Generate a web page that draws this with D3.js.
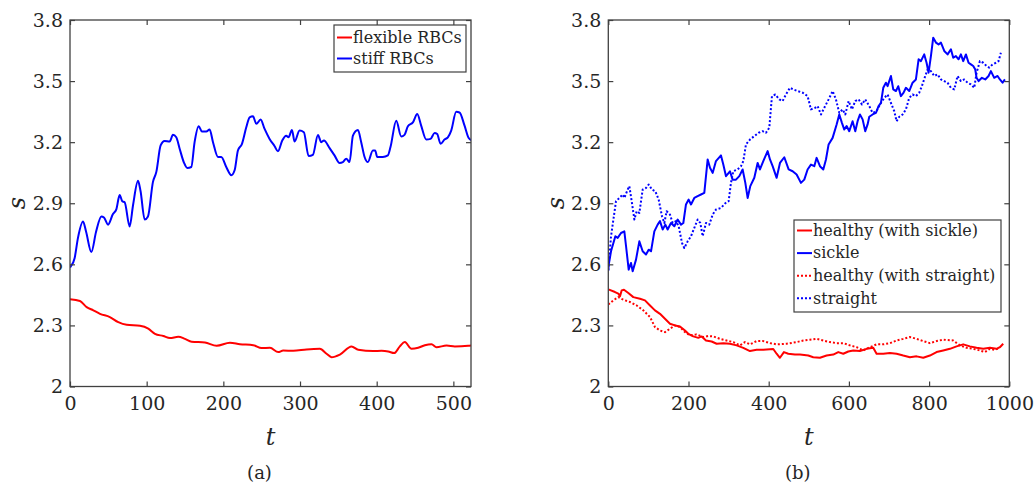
<!DOCTYPE html>
<html><head><meta charset="utf-8">
<script src="https://cdn.jsdelivr.net/npm/d3@7"></script>
<style>
body{margin:0;background:#fff;}
svg{display:block;}
text{font-family:"DejaVu Serif",serif;fill:#262626;}
</style></head>
<body>
<svg id="c" width="1035" height="485"></svg>
<script>
// ---------- DATA ----------
const xTicksA = [0,100,200,300,400,500];
const xTicksB = [0,200,400,600,800,1000];
const yTicks = [2,2.3,2.6,2.9,3.2,3.5,3.8];
const yTickLabels = ["2","2.3","2.6","2.9","3.2","3.5","3.8"];
const legendA = ["flexible RBCs","stiff RBCs"];
const legendB = ["healthy (with sickle)","sickle","healthy (with straight)","straight"];

const stiff = [[0,2.585],[1,2.59],[6,2.63],[10.4,2.73],[17,2.81],[21,2.76],[27.8,2.66],[34,2.76],[40.9,2.835],[44.3,2.83],[49.6,2.795],[56,2.847],[60.4,2.87],[64.8,2.94],[68.2,2.91],[71.3,2.905],[77.8,2.786],[82.2,2.89],[88.7,3.01],[92,2.96],[97.4,2.82],[101.7,2.835],[108.2,3.005],[112.6,3.054],[118.2,3.184],[123.4,3.206],[130,3.203],[134.3,3.236],[138.6,3.224],[143,3.168],[148.6,3.10],[153,3.073],[158.2,3.078],[162.5,3.20],[167.8,3.278],[172.1,3.252],[177.8,3.252],[182.1,3.262],[186.5,3.20],[193,3.127],[197.3,3.127],[203.8,3.078],[210.4,3.038],[214.7,3.062],[219,3.159],[224.3,3.192],[229.9,3.273],[234.3,3.322],[238.6,3.327],[243,3.29],[248.6,3.311],[253.8,3.265],[260.3,3.216],[266.9,3.18],[271.2,3.155],[276.8,3.208],[282,3.232],[285,3.224],[289.5,3.26],[292.9,3.203],[299.4,3.257],[305,3.249],[311.2,3.132],[316.8,3.138],[323.4,3.235],[327.7,3.20],[331.2,3.208],[338.6,3.171],[345,3.135],[351.6,3.098],[355.9,3.102],[360.3,3.119],[364.6,3.102],[369,3.232],[375.5,3.26],[379.8,3.20],[384.2,3.127],[388.5,3.102],[395,3.159],[398,3.159],[400.7,3.127],[408,3.127],[414.6,3.135],[418,3.176],[425.5,3.305],[432,3.228],[436.3,3.236],[440.7,3.278],[447.2,3.297],[452.9,3.338],[458,3.281],[464.6,3.213],[470.2,3.216],[475.5,3.245],[478.9,3.24],[483.3,3.192],[488.5,3.213],[492.8,3.224],[497.2,3.257],[503.7,3.349],[508,3.346],[514.6,3.281],[520,3.22],[523,3.21]];

const flexible = [[0,2.428],[13,2.42],[21.7,2.39],[30.4,2.374],[39.1,2.357],[52,2.341],[63,2.316],[73.9,2.303],[91.3,2.298],[102.1,2.284],[110.8,2.259],[121.7,2.248],[130.4,2.238],[141.2,2.244],[149.9,2.234],[158.6,2.22],[176,2.216],[191.2,2.20],[208.6,2.215],[221.6,2.208],[239,2.203],[249.9,2.189],[260.8,2.19],[271.6,2.169],[278.1,2.177],[291.2,2.175],[308.5,2.182],[325.9,2.185],[334.6,2.161],[341.1,2.144],[352,2.157],[367.2,2.197],[375.9,2.18],[395.5,2.174],[406.3,2.175],[415,2.172],[422.8,2.164],[430.2,2.197],[436.7,2.218],[445.4,2.185],[454.1,2.19],[462.8,2.203],[471.5,2.208],[478,2.193],[491.1,2.201],[501.9,2.197],[519.3,2.20],[523,2.202]];

const sickle = [[0,2.57],[1,2.598],[6.8,2.664],[17.6,2.738],[23.4,2.73],[31.7,2.754],[40,2.762],[44.2,2.69],[50.8,2.574],[56.6,2.607],[60.8,2.566],[69.1,2.623],[77.4,2.713],[85.7,2.664],[94,2.648],[100.7,2.672],[106.5,2.664],[114.8,2.762],[123.1,2.795],[128.9,2.812],[135.6,2.771],[142.2,2.795],[148,2.771],[156.3,2.803],[164.7,2.787],[173,2.82],[181.3,2.795],[187.1,2.803],[193.7,2.894],[200.4,2.918],[206.2,2.894],[214.5,2.926],[222.8,2.935],[231.1,2.943],[239.4,2.951],[247.8,3.115],[253.6,3.074],[260.2,3.049],[268.5,3.107],[281,3.135],[286.8,3.09],[293.5,3.033],[303.4,3.057],[310,3.016],[318.4,3.016],[326.7,3.033],[335,3.066],[341.7,3.0],[347.5,2.926],[354.1,2.984],[364.1,3.025],[372.4,3.098],[378.2,3.066],[386.5,3.107],[397.3,3.156],[403.2,3.115],[409.8,3.082],[419.8,3.025],[428.1,3.098],[438.9,3.126],[449.7,3.066],[459.7,3.057],[469.6,3.041],[480.4,3.0],[488.7,3.016],[497,3.066],[505.4,3.09],[513.7,3.082],[519.5,3.123],[527.8,3.082],[536.1,3.066],[542.8,3.115],[549.4,3.189],[559.4,3.221],[569.4,3.287],[576,3.336],[582.6,3.295],[588.5,3.262],[594.3,3.279],[600.9,3.254],[609.2,3.303],[615.9,3.254],[621.7,3.303],[627.5,3.336],[634.2,3.312],[640.8,3.254],[646.6,3.287],[650.8,3.325],[659.1,3.336],[667.4,3.344],[674,3.377],[679.9,3.393],[685.7,3.467],[692.3,3.492],[696.5,3.475],[704.8,3.525],[710.6,3.459],[717.3,3.451],[723.1,3.475],[729.7,3.426],[736.4,3.443],[742.2,3.467],[750.5,3.451],[758.8,3.492],[767.1,3.508],[773.8,3.607],[779.6,3.598],[783.8,3.615],[787.9,3.631],[793.7,3.59],[798.7,3.541],[804.5,3.623],[810.3,3.713],[817,3.689],[823.6,3.68],[829.5,3.689],[837.8,3.648],[846.1,3.631],[854.4,3.656],[860.2,3.615],[866.9,3.623],[873.5,3.607],[879.3,3.631],[885.1,3.598],[891.8,3.631],[898.4,3.59],[904.2,3.582],[910.1,3.574],[915.1,3.557],[918.4,3.516],[923.4,3.5],[931.7,3.516],[940,3.508],[948.3,3.525],[954.1,3.549],[962.4,3.516],[970.7,3.525],[976.5,3.508],[983.2,3.492],[989,3.508]];

const straight = [[0,2.57],[6.8,2.738],[19.2,2.91],[27.5,2.926],[35.9,2.943],[40,2.926],[48.3,2.967],[52.5,2.984],[59.1,2.90],[65,2.82],[70.8,2.861],[77.4,2.852],[85.7,2.967],[94,2.975],[100.7,2.992],[109,2.967],[117.3,2.959],[125.6,2.918],[133.9,2.836],[139.7,2.803],[145.5,2.861],[153.9,2.844],[160.5,2.803],[168.8,2.812],[175.5,2.787],[183.8,2.705],[189.6,2.68],[197.9,2.713],[206.2,2.738],[214.5,2.779],[222.8,2.82],[229.5,2.803],[235.3,2.738],[243.6,2.803],[251.9,2.795],[260.2,2.844],[268.5,2.869],[281,2.877],[291.8,2.90],[300.1,2.91],[305.9,3.0],[311.7,3.057],[322.5,3.066],[330.9,3.082],[336.7,3.107],[343.3,3.189],[353.3,3.213],[364.1,3.23],[374.9,3.246],[384.9,3.254],[393.2,3.246],[401.5,3.271],[408.1,3.426],[416.4,3.434],[426.4,3.41],[434.7,3.402],[443,3.434],[453,3.467],[461.3,3.459],[472.1,3.451],[484.6,3.443],[497,3.426],[505.4,3.361],[516.2,3.369],[522,3.377],[530.3,3.336],[538.6,3.369],[549.4,3.41],[559.4,3.451],[567.7,3.41],[576,3.344],[584.3,3.361],[591,3.336],[599.3,3.402],[607.6,3.361],[615.9,3.402],[624.2,3.41],[632.5,3.385],[640.8,3.41],[650.8,3.377],[659.1,3.344],[669.1,3.352],[677.4,3.385],[688.2,3.418],[696.5,3.434],[704.8,3.393],[713.1,3.352],[718.9,3.303],[725.6,3.325],[733.9,3.336],[742.2,3.361],[750.5,3.418],[758.8,3.434],[767.1,3.426],[775.4,3.443],[782,3.475],[790.4,3.525],[796.2,3.557],[804.5,3.549],[812.8,3.525],[821.1,3.533],[829.5,3.508],[837.8,3.5],[846.1,3.492],[854.4,3.467],[862.7,3.459],[871,3.525],[879.3,3.5],[887.6,3.508],[896,3.492],[904.2,3.484],[912.6,3.467],[918.4,3.541],[926.7,3.598],[935,3.59],[943.3,3.574],[950,3.566],[958.3,3.582],[966.6,3.59],[973.2,3.598],[979,3.639]];

const healthySickle = [[0,2.477],[16.7,2.464],[25,2.456],[29.2,2.443],[33.3,2.472],[39.1,2.475],[50,2.459],[62.4,2.439],[79,2.431],[91.5,2.423],[104,2.398],[116.4,2.374],[128.9,2.357],[141.3,2.333],[153.8,2.308],[166.3,2.30],[178.7,2.295],[191.2,2.275],[199.5,2.259],[212,2.246],[224.4,2.239],[232.8,2.246],[243.6,2.226],[257.7,2.221],[270.2,2.21],[286.8,2.213],[303.4,2.21],[320,2.202],[336.6,2.19],[353.3,2.174],[369.9,2.18],[386.5,2.18],[411.4,2.184],[419.7,2.161],[428,2.141],[438,2.169],[448.8,2.161],[465.4,2.157],[478,2.157],[498.7,2.152],[511.1,2.144],[527.8,2.141],[544.4,2.152],[561,2.157],[573.5,2.169],[586,2.161],[598.4,2.172],[610.9,2.177],[627.5,2.174],[644.1,2.185],[660.7,2.19],[669,2.161],[685.7,2.161],[702.3,2.164],[718.9,2.161],[735.5,2.152],[752.1,2.144],[768.8,2.148],[785.4,2.141],[802,2.152],[818.6,2.169],[835.2,2.177],[851.9,2.185],[868.5,2.197],[885.1,2.207],[901.7,2.197],[918.3,2.19],[935,2.185],[951.6,2.19],[968.2,2.185],[976.5,2.193],[984.8,2.21]];

const healthyStraight = [[0,2.403],[12.5,2.423],[25,2.439],[37.5,2.426],[54,2.415],[70.7,2.398],[87.3,2.374],[104,2.341],[116.4,2.292],[129,2.275],[141.3,2.267],[153.8,2.284],[166.3,2.30],[178.7,2.292],[191.2,2.267],[203.7,2.251],[220.3,2.256],[236.9,2.243],[249.4,2.248],[261.8,2.246],[278.5,2.234],[295,2.226],[311.7,2.218],[328.3,2.202],[340.8,2.218],[353.3,2.207],[369.9,2.223],[386.5,2.223],[403.1,2.213],[419.7,2.207],[444.6,2.21],[469.6,2.218],[486.2,2.226],[502.8,2.23],[519.5,2.234],[536.1,2.226],[552.7,2.218],[569.3,2.213],[585.9,2.213],[602.5,2.202],[619.2,2.193],[635.8,2.177],[652.4,2.193],[669,2.207],[685.7,2.207],[702.3,2.213],[718.9,2.226],[735.5,2.234],[752.1,2.243],[768.8,2.234],[785.4,2.223],[802,2.213],[818.6,2.223],[835.2,2.23],[860.2,2.226],[876.8,2.202],[893.4,2.19],[910,2.185],[926.7,2.177],[939.1,2.169],[951.6,2.185],[964.1,2.18],[976.5,2.19]];

// ---------- DRAW ----------
const svg = d3.select("#c");
const AX = "#404040";
const RED = "#ff0000", BLUE = "#0000ff";
const FONT = '"DejaVu Serif",serif';

function panel(opt){
  const g = svg.append("g");
  const x = d3.scaleLinear().domain(opt.xDomain).range([opt.left, opt.right]);
  const y = d3.scaleLinear().domain([2,3.8]).range([386.5, 20]);
  const fmt = (d)=>yTickLabels[yTicks.indexOf(d)];

  const clipId = "clip"+opt.id;
  svg.append("clipPath").attr("id",clipId).append("rect")
    .attr("x",opt.left).attr("y",20).attr("width",opt.right-opt.left).attr("height",366.5);
  const lg = g.append("g").attr("clip-path","url(#"+clipId+")");
  opt.series.forEach(s=>{
    const line = d3.line().x(d=>x(d[0])).y(d=>y(d[1])).curve(s.curve||d3.curveLinear);
    lg.append("path").datum(s.data).attr("d",line).attr("fill","none")
      .attr("stroke",s.color).attr("stroke-width",2)
      .attr("stroke-dasharray",s.dash?"2,2":null).attr("stroke-linejoin","round");
  });

  const ax = (sel)=>{sel.attr("font-family",FONT); sel.select(".domain").remove();
    sel.selectAll("line").attr("stroke",AX).attr("stroke-width",1.2);
    sel.selectAll("text").style("font-size","19px").style("font-family",FONT).attr("fill","#333");};
  g.append("g").attr("transform","translate(0,386.5)")
    .call(d3.axisBottom(x).tickValues(opt.xTicks).tickSize(-5).tickPadding(10).tickFormat(d3.format("d"))).call(ax);
  g.append("g").attr("transform","translate(0,20)")
    .call(d3.axisTop(x).tickValues(opt.xTicks).tickSize(-5).tickFormat("")).call(ax);
  g.append("g").attr("transform","translate("+opt.left+",0)")
    .call(d3.axisLeft(y).tickValues(yTicks).tickSize(-5).tickPadding(7).tickFormat(fmt)).call(ax);
  g.append("g").attr("transform","translate("+opt.right+",0)")
    .call(d3.axisRight(y).tickValues(yTicks).tickSize(-5).tickFormat("")).call(ax);

  g.append("rect").attr("x",opt.left).attr("y",20).attr("width",opt.right-opt.left).attr("height",366.5)
    .attr("fill","none").attr("stroke",AX).attr("stroke-width",1.3);

  const cx = (opt.left+opt.right)/2;
  g.append("text").attr("x",cx).attr("y",445).attr("text-anchor","middle")
    .style("font-size","24px").style("font-style","italic").text("t");
  g.append("text").attr("transform","translate("+(opt.left-53)+",203) rotate(-90)")
    .attr("text-anchor","middle").attr("dy","0.35em")
    .style("font-size","24px").style("font-style","italic").text("s");
  g.append("text").attr("x",opt.capX).attr("y",479).attr("text-anchor","middle")
    .style("font-size","18px").text(opt.caption);

  const L = opt.legend;
  g.append("rect").attr("x",L.x).attr("y",L.y).attr("width",L.w).attr("height",L.h)
    .attr("fill","#fff").attr("stroke",AX).attr("stroke-width",1.2);
  L.items.forEach((it,i)=>{
    const yy = L.row0 + i*L.dy;
    g.append("line").attr("x1",L.x+3).attr("x2",L.x+18).attr("y1",yy).attr("y2",yy)
      .attr("stroke",it.color).attr("stroke-width",2).attr("stroke-dasharray",it.dash?"2,2":null);
    g.append("text").attr("x",L.x+19).attr("y",yy).attr("dy","0.33em")
      .style("font-size","16px").attr("fill","#111").text(it.label);
  });
}

panel({id:"a", xDomain:[0,523], left:70, right:471, xTicks:xTicksA, caption:"(a)", capX:259.5,
  series:[{data:flexible,color:RED,curve:d3.curveMonotoneX},{data:stiff,color:BLUE,curve:d3.curveMonotoneX}],
  legend:{x:334,y:25,w:132,h:47,row0:37.5,dy:21,
    items:[{label:legendA[0],color:RED},{label:legendA[1],color:BLUE}]}});

panel({id:"b", xDomain:[0,1000], left:608.3, right:1009.3, xTicks:xTicksB, caption:"(b)", capX:797.7,
  series:[{data:healthySickle,color:RED},{data:sickle,color:BLUE},
          {data:healthyStraight,color:RED,dash:true},{data:straight,color:BLUE,dash:true}],
  legend:{x:794,y:220,w:207,h:92,row0:230.5,dy:22.6,
    items:[{label:legendB[0],color:RED},{label:legendB[1],color:BLUE},
           {label:legendB[2],color:RED,dash:true},{label:legendB[3],color:BLUE,dash:true}]}});
</script>
</body></html>
